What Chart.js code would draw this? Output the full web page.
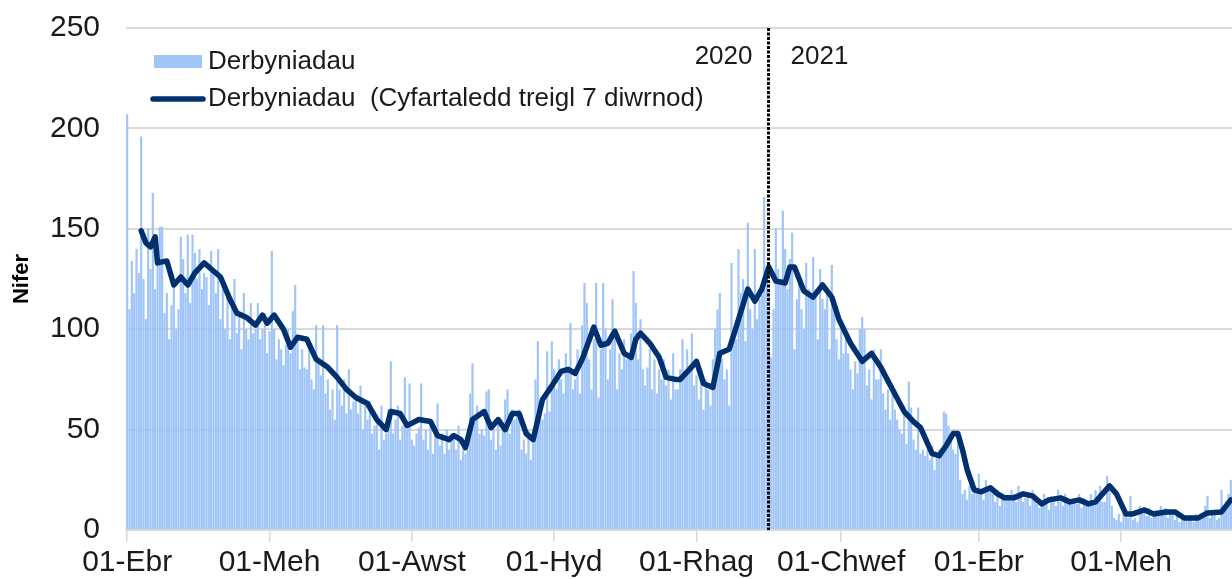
<!DOCTYPE html>
<html>
<head>
<meta charset="utf-8">
<title>Derbyniadau</title>
<script src="https://cdn.jsdelivr.net/npm/chart.js@4.4.0/dist/chart.umd.min.js"></script>
<style>
  html, body { margin: 0; padding: 0; background: #fff; }
  canvas { display: block; }
</style>
</head>
<body>
<canvas id="chart" width="1232" height="579"></canvas>
<script>
// x axis: days counted from 01-Ebr 2020
const tickDays = [0, 61, 122, 183, 244, 306, 365, 426];
const tickLabels = ["01-Ebr", "01-Meh", "01-Awst", "01-Hyd", "01-Rhag", "01-Chwef", "01-Ebr", "01-Meh"];
const yearLabels = ["2020", "2021"];
const yearBreakDay = 274.5;

// daily admissions, one value per day
const admissions = [
  207, 110, 134, 118, 140, 128, 196,
  125, 105, 150, 130, 168, 120, 140,
  151, 151, 108, 118, 95, 112, 122,
  100, 110, 146, 135, 118, 147, 113,
  147, 138, 125, 140, 120, 128, 126,
  112, 139, 130, 118, 140, 105, 125,
  100, 120, 95, 112, 125, 98, 106,
  90, 118, 100, 95, 113, 98, 100,
  113, 95, 100, 108, 88, 99, 139,
  100, 85, 95, 90, 82, 92, 100,
  88, 109, 122, 95, 80, 90, 81,
  80, 92, 75, 70, 102, 85, 77,
  102, 68, 75, 60, 70, 55, 102,
  70, 62, 75, 58, 80, 60, 64,
  66, 58, 72, 50, 62, 55, 64,
  48, 52, 55, 40, 62, 45, 48,
  60, 84, 48, 55, 62, 45, 52,
  76, 50, 73, 45, 42, 48, 51,
  73, 45, 50, 40, 52, 38, 52,
  63, 42, 48, 38, 50, 40, 48,
  45, 40, 52, 35, 44, 38, 40,
  68, 83, 55, 62, 48, 50, 47,
  69, 70, 45, 50, 40, 55, 42,
  50, 65, 70, 48, 60, 55, 58,
  60, 40, 45, 38, 50, 35, 47,
  75, 94, 60, 55, 58, 89, 59,
  94, 80, 70, 85, 75, 68, 88,
  80, 103, 70, 75, 90, 68, 102,
  123, 113, 85, 70, 95, 123, 66,
  90, 123, 100, 75, 90, 115, 100,
  70, 88, 80, 95, 85, 86, 98,
  129, 113, 85, 105, 80, 72, 81,
  90, 70, 85, 68, 80, 75, 85,
  72, 80, 65, 88, 70, 70, 80,
  95, 76, 90, 80, 98, 72, 77,
  65, 80, 60, 75, 70, 62, 85,
  100, 110, 118, 85, 75, 80, 62,
  133, 100, 95, 140, 118, 125, 94,
  153, 110, 100, 140, 105, 115, 117,
  166, 130, 120, 86, 110, 150, 130,
  125, 159, 140, 120, 135, 148, 90,
  115, 125, 110, 100, 133, 120, 116,
  136, 120, 95, 130, 115, 110, 120,
  90, 132, 110, 95, 85, 100, 88,
  95, 88, 80, 70, 84, 78, 100,
  106, 100, 72, 80, 65, 90, 75,
  75, 90, 68, 60, 70, 55, 72,
  60, 55, 50, 48, 62, 43, 74,
  61, 45, 40, 61, 38, 40, 37,
  40, 35, 42, 30, 38, 40, 41,
  59, 58, 52, 45, 40, 38, 44,
  25, 18, 20, 15, 22, 18, 22,
  20, 28, 18, 15, 25, 20, 21,
  18, 14, 20, 12, 18, 15, 15,
  15, 20, 18, 14, 22, 16, 14,
  16, 18, 12, 20, 15, 13, 11,
  12, 18, 14, 10, 17, 15, 12,
  20, 14, 12, 18, 15, 13, 13,
  15, 13, 18, 11, 16, 12, 13,
  18, 15, 20, 16, 22, 14, 14,
  27, 22, 12, 6, 5, 8, 4,
  8, 10, 6, 17, 5, 6, 4,
  12, 8, 10, 7, 11, 6, 9,
  10, 7, 12, 8, 11, 6, 9,
  8, 5, 7, 4, 6, 6, 6,
  5, 7, 4, 8, 5, 6, 7,
  12, 17, 6, 8, 9, 5, 6,
  20, 10, 14, 18, 25
];

// 7-day rolling average, every few days
const avgDays = [
  6, 8, 10, 12, 13, 17, 20, 23, 26, 29, 33, 37, 40, 44, 47, 51, 55, 58, 60, 63,
  67, 70, 73, 77, 81, 86, 90, 94, 98, 103, 107, 111, 113, 117, 120, 125, 130, 133, 138, 140,
  143, 145, 148, 153, 156, 159, 162, 165, 168, 171, 174, 178, 181, 186, 189, 192, 195, 200, 203, 206,
  209, 213, 216, 218, 220, 224, 228, 231, 235, 237, 241, 244, 247, 251, 254, 258, 261, 266, 269, 272,
  275, 278, 282, 284, 286, 290, 294, 298, 302, 305, 310, 315, 319, 323, 328, 333, 337, 340, 345, 348,
  351, 354, 356, 358, 360, 363, 366, 370, 373, 376, 380, 384, 388, 392, 395, 400, 404, 408, 412, 415,
  418, 421, 424, 428, 431, 436, 440, 445, 449, 453, 459, 463, 469, 473
];
const avgValues = [
  149, 143, 141, 146, 133, 134, 122, 126, 122, 128, 133, 129, 126, 115, 108, 106, 102, 107, 103, 107,
  100, 91, 96, 95, 85, 81, 76, 70, 66, 63, 55, 50, 59, 58, 52, 55, 54, 47, 45, 47,
  45, 41, 55, 59, 51, 55, 50, 58, 58, 48, 45, 65, 70, 79, 80, 78, 85, 101, 92, 93,
  99, 88, 86, 95, 98, 93, 86, 76, 75, 75, 80, 84, 73, 71, 88, 90, 101, 120, 114, 120,
  131, 124, 123, 131, 131, 119, 116, 122, 116, 105, 93, 84, 88, 81, 70, 59, 54, 51, 38, 37,
  42, 48, 48, 40, 30, 20, 19, 21, 18, 16, 16, 18, 17, 13, 15, 16, 14, 15, 13, 14,
  18, 22, 18, 8, 8, 10, 8, 9, 9, 6, 6, 8.5, 9, 15
];

const FONT = '"Liberation Sans", Arial, sans-serif';
const TEXT = "#1a1a1a";
const barColor = "#9EC4F8";
const lineColor = "#00306E";
const gridColor = "#D9D9D9";

// legend, year divider and year labels drawn over the plot
const overlay = {
  id: "overlay",
  afterDatasetsDraw(chart) {
    const { ctx, chartArea: area, scales: { x } } = chart;
    const bx = Math.round(x.getPixelForValue(yearBreakDay)) + 0.5;
    ctx.save();
    ctx.strokeStyle = "#000";
    ctx.lineWidth = 3;
    ctx.setLineDash([3, 1.5]);
    ctx.beginPath();
    ctx.moveTo(bx, area.top);
    ctx.lineTo(bx, area.bottom);
    ctx.stroke();
    ctx.setLineDash([]);

    ctx.fillStyle = TEXT;
    ctx.font = `26px ${FONT}`;
    ctx.textBaseline = "middle";
    ctx.textAlign = "right";
    ctx.fillText(yearLabels[0], bx - 16, area.top + 29);
    ctx.textAlign = "left";
    ctx.fillText(yearLabels[1], bx + 22, area.top + 29);

    const lx = area.left + 28;
    ctx.fillStyle = barColor;
    ctx.fillRect(lx, area.top + 27, 48, 13);
    ctx.strokeStyle = lineColor;
    ctx.lineWidth = 5.5;
    ctx.lineCap = "round";
    ctx.beginPath();
    ctx.moveTo(lx - 1, area.top + 71);
    ctx.lineTo(lx + 49, area.top + 71);
    ctx.stroke();
    ctx.fillStyle = TEXT;
    ctx.fillText(chart.data.datasets[0].label, lx + 54, area.top + 34);
    ctx.fillText(chart.data.datasets[1].label, lx + 54, area.top + 71);
    ctx.restore();
  }
};

new Chart(document.getElementById("chart"), {
  type: "bar",
  plugins: [overlay],
  data: {
    datasets: [
      {
        type: "bar",
        label: "Derbyniadau",
        data: admissions.map((v, i) => ({ x: i, y: v })),
        backgroundColor: barColor,
        borderWidth: 0,
        barPercentage: 0.92,
        categoryPercentage: 1,
        order: 2,
      },
      {
        type: "line",
        label: "Derbyniadau  (Cyfartaledd treigl 7 diwrnod)",
        data: avgDays.map((d, i) => ({ x: d, y: avgValues[i] })),
        borderColor: lineColor,
        borderWidth: 5.5,
        borderJoinStyle: "round",
        borderCapStyle: "round",
        pointRadius: 0,
        tension: 0,
        order: 1,
      },
    ],
  },
  options: {
    responsive: false,
    animation: false,
    devicePixelRatio: 1,
    layout: { padding: { top: 28, right: 0, left: 0, bottom: 0 } },
    plugins: {
      legend: { display: false },
      tooltip: { enabled: false },
    },
    scales: {
      x: {
        type: "linear",
        min: -0.5,
        max: 473.5,
        offset: false,
        grid: {
          offset: false,
          drawOnChartArea: false,
          color: gridColor,
          lineWidth: 1.5,
          tickLength: 12,
        },
        border: { color: gridColor, width: 2 },
        afterBuildTicks: (axis) => {
          axis.ticks = tickDays.map((v) => ({ value: v }));
        },
        afterFit: (axis) => { axis.height = 49; },
        ticks: {
          autoSkip: false,
          maxRotation: 0,
          padding: 3,
          color: TEXT,
          font: { family: FONT, size: 30 },
          callback: (v) => tickLabels[tickDays.indexOf(v)],
        },
      },
      y: {
        min: 0,
        max: 250,
        // invisible tick marks keep the labels clear of the plot
        grid: { color: gridColor, lineWidth: 2, drawTicks: true, tickLength: 24, tickColor: "rgba(0,0,0,0)" },
        border: { display: false },
        afterFit: (axis) => { axis.width = 126; },
        ticks: {
          stepSize: 50,
          padding: 2,
          color: TEXT,
          font: { family: FONT, size: 30 },
        },
        title: {
          display: true,
          text: "Nifer",
          color: "#000",
          padding: { top: 9, bottom: 0 },
          font: { family: FONT, size: 22, weight: "bold" },
        },
      },
    },
  },
});
</script>
</body>
</html>
